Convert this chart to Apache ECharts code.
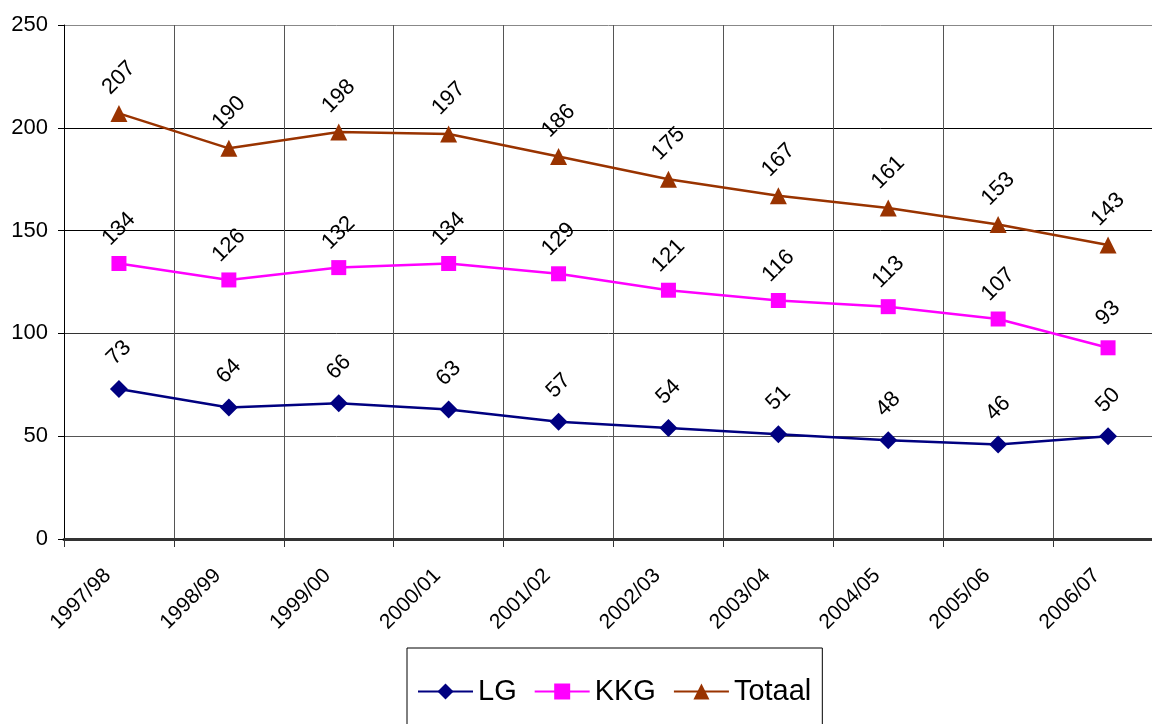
<!DOCTYPE html>
<html><head><meta charset="utf-8">
<script src="https://cdn.jsdelivr.net/npm/echarts@6/dist/echarts.min.js"></script>
<style>html,body{margin:0;padding:0;background:#fff}#c{width:1152px;height:724px}</style>
</head><body><div id="c"></div>
<script>
const categories = ['1997/98','1998/99','1999/00','2000/01','2001/02','2002/03','2003/04','2004/05','2005/06','2006/07'];
const lgValues = [73, 64, 66, 63, 57, 54, 51, 48, 46, 50];
const kkgValues = [134, 126, 132, 134, 129, 121, 116, 113, 107, 93];
const totaalValues = [207, 190, 198, 197, 186, 175, 167, 161, 153, 143];
const yTicks = [0, 50, 100, 150, 200, 250];

const font = 'Liberation Sans, Arial, sans-serif';
const lbl = {
  show: true, position: 'top', distance: 27, rotate: 45,
  align: 'center', verticalAlign: 'middle',
  fontFamily: font, fontSize: 22, color: '#000'
};
function mk(name, data, color, symbol, size) {
  return {
    name, type: 'line', data, symbol, symbolSize: size,
    lineStyle: { color, width: 2.5 }, itemStyle: { color },
    label: lbl, animation: false
  };
}
const chart = echarts.init(document.getElementById('c'));
chart.setOption({
  animation: false,
  grid: { left: 64, top: 25, bottom: 185, width: 1099, outerBoundsMode: 'none', containLabel: false },
  xAxis: {
    type: 'category', data: categories, boundaryGap: true,
    axisLine: { lineStyle: { color: '#333', width: 3 } },
    axisTick: { show: true, interval: 0, length: 8, lineStyle: { color: '#333' } },
    axisLabel: { interval: 0, rotate: 45, margin: 22, padding: [0, 16, 0, 0], fontFamily: font, fontSize: 21, color: '#000' },
    splitLine: { show: true, interval: 0, lineStyle: { color: '#555', width: 1 } }
  },
  yAxis: {
    type: 'value', min: yTicks[0], max: yTicks[yTicks.length - 1], interval: 50,
    axisLine: { show: true, lineStyle: { color: '#000', width: 1 } },
    axisTick: { show: true, length: 6, lineStyle: { color: '#000' } },
    axisLabel: { margin: 16, fontFamily: font, fontSize: 22, color: '#000' },
    splitLine: { show: true, lineStyle: { color: ['#444', '#555', '#333', '#000', '#000', '#888'], width: 1 } }
  },
  legend: {
    left: 407, top: 648,
    padding: [29, 11, 60, 10],
    borderColor: '#000', borderWidth: 1,
    itemWidth: 55, itemHeight: 20, itemGap: 17,
    textStyle: { fontFamily: font, fontSize: 29, color: '#000' },
    data: ['LG', 'KKG', 'Totaal']
  },
  series: [
    mk('LG', lgValues, '#000080', 'diamond', 18),
    mk('KKG', kkgValues, '#FF00FF', 'rect', 15),
    mk('Totaal', totaalValues, '#993300', 'triangle', 17)
  ]
});
</script></body></html>
